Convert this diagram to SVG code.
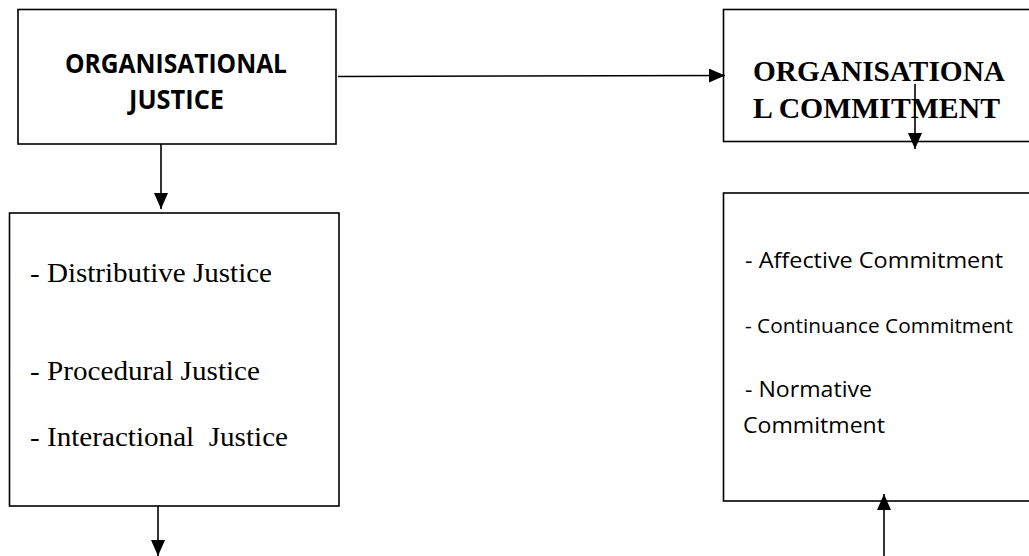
<svg xmlns="http://www.w3.org/2000/svg" width="1029" height="556" viewBox="0 0 1029 556">
<style>
.box{fill:#fff;stroke:#000;stroke-width:1.6}
.con{stroke:#000;stroke-width:1.6;fill:none;marker-end:url(#ah)}
.sb{font-family:"Open Sans","Liberation Sans",sans-serif;font-weight:bold;fill:#000}
.s{font-family:"Open Sans","Liberation Sans",sans-serif;fill:#000}
.tb{font-family:"Liberation Serif","Times New Roman",serif;font-weight:bold;fill:#000}
.t{font-family:"Liberation Serif","Times New Roman",serif;fill:#000}
</style>
<defs>
<marker id="ah" markerUnits="userSpaceOnUse" markerWidth="16" markerHeight="14" refX="16" refY="7" orient="auto">
<path d="M0,0 L16,7 L0,14 Z" fill="#000"/>
</marker>
</defs>
<rect width="1029" height="556" fill="#fff"/>
<g id="org-justice">
<rect class="box" x="18" y="9.5" width="318" height="134.5"/>
<text class="sb" x="176" y="73" font-size="26" text-anchor="middle" textLength="222" lengthAdjust="spacingAndGlyphs">ORGANISATIONAL</text>
<text class="sb" x="176.5" y="108.5" font-size="26" text-anchor="middle" textLength="95" lengthAdjust="spacingAndGlyphs">JUSTICE</text>
</g>
<g id="justice-types">
<rect class="box" x="9.5" y="213" width="329.5" height="293"/>
<text class="t" x="30" y="282" font-size="27" textLength="242" lengthAdjust="spacingAndGlyphs">- Distributive Justice</text>
<text class="t" x="30" y="380" font-size="27" textLength="230" lengthAdjust="spacingAndGlyphs">- Procedural Justice</text>
<text class="t" x="30" y="446" font-size="27" textLength="258" lengthAdjust="spacingAndGlyphs" xml:space="preserve">- Interactional  Justice</text>
</g>
<g id="org-commitment">
<rect class="box" x="723.5" y="9.5" width="330" height="132"/>
<text class="tb" x="753" y="81" font-size="29" textLength="252" lengthAdjust="spacingAndGlyphs">ORGANISATIONA</text>
<text class="tb" x="753" y="118" font-size="29" textLength="247" lengthAdjust="spacingAndGlyphs">L COMMITMENT</text>
</g>
<g id="commitment-types">
<rect class="box" x="723.5" y="193" width="330" height="308"/>
<text class="s" x="745" y="268" font-size="22" textLength="258" lengthAdjust="spacingAndGlyphs">- Affective Commitment</text>
<text class="s" x="745" y="332.5" font-size="20.5" textLength="268" lengthAdjust="spacingAndGlyphs">- Continuance Commitment</text>
<text class="s" x="745" y="397" font-size="22" textLength="127" lengthAdjust="spacingAndGlyphs">- Normative</text>
<text class="s" x="743" y="433" font-size="22" textLength="142" lengthAdjust="spacingAndGlyphs">Commitment</text>
</g>
<g id="connectors">
<line class="con" x1="161" y1="144" x2="161" y2="209"/>
<line class="con" x1="158" y1="506" x2="158" y2="556"/>
<line class="con" x1="338" y1="76.5" x2="725" y2="75.5"/>
<line class="con" x1="915" y1="84" x2="915" y2="149"/>
<line class="con" x1="884" y1="556" x2="884" y2="494"/>
</g>
</svg>
